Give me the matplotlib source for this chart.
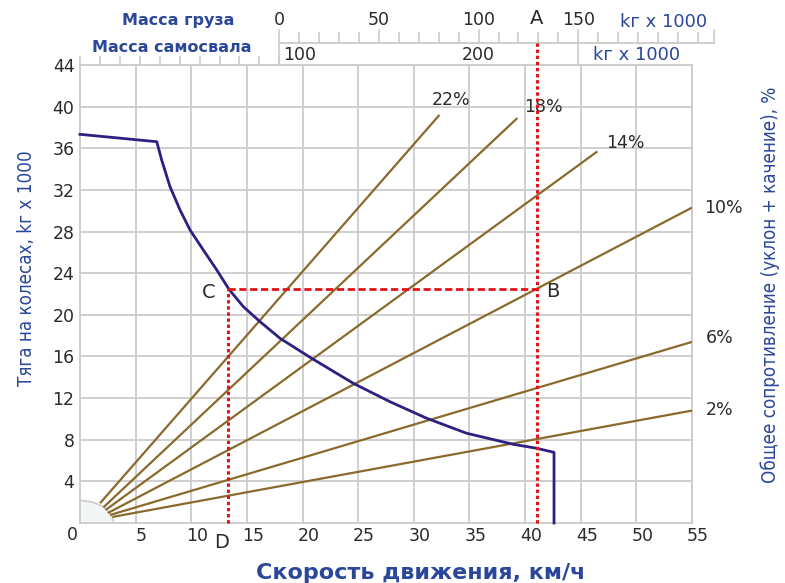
import numpy as np
import matplotlib.pyplot as plt
from matplotlib.patches import Ellipse
from matplotlib.transforms import ScaledTranslation

# тяговая характеристика: скорость, км/ч -> тяга на колесах, т
rimpull_speed = [0, 6.9, 7.34, 8.09, 8.99, 9.89, 11.08, 12.29, 13.39, 14.68, 16.18,
                 17.98, 20.82, 24.56, 27.86, 31.16, 34.75, 38.94, 41.04, 42.6, 42.6]
rimpull_force = [37.34, 36.63, 34.87, 32.31, 30.07, 28.15, 26.23, 24.31, 22.45, 20.78, 19.34,
                 17.74, 15.82, 13.42, 11.65, 10.06, 8.62, 7.56, 7.18, 6.79, 0]

# линии общего сопротивления
grades = ['22%', '18%', '14%', '10%', '6%', '2%']
grade_x0 = [1.8, 2.1, 2.3, 2.5, 2.7, 2.9]
grade_y0 = [1.9, 1.5, 1.25, 0.96, 0.77, 0.58]
grade_x1 = [32.3, 39.3, 46.5, 55, 55, 55]
grade_y1 = [39.2, 38.9, 35.7, 30.3, 17.4, 10.8]

# шкалы массы (т) сверху
load_ticks = np.arange(0, 220, 10)
load_major = [0, 50, 100, 150]
load_max = 218
gross_ticks = np.arange(0, 101, 10)
gross_labels = [100, 200]
empty_mass = 100
kmh_per_tonne = 0.1791

# пример: A -> B -> C -> D
gross_A = 229.3
thrust_B = 22.45
speed_D = 13.3

x_ticks = np.arange(5, 56, 5)
y_ticks = np.arange(4, 45, 4)

BLUE = '#2b4799'
NAVY = '#2d2080'
BROWN = '#8a6a2c'
RED = '#e3131b'
GRID = '#cbcbcb'
DARK = '#2b2b2b'


def load_to_speed(m):
    return (np.asarray(m) + empty_mass) * kmh_per_tonne


def gross_to_speed(m):
    return np.asarray(m) * kmh_per_tonne


fig = plt.figure(figsize=(7.85, 5.83), dpi=100)
ax = fig.add_axes([80 / 785, 60 / 583, 612 / 785, 458 / 583])
ax.set_xlim(0, 55)
ax.set_ylim(0, 44)

ax.set_xticks(x_ticks)
ax.set_yticks(y_ticks)
ax.grid(True, color=GRID, lw=1.3)
ax.set_axisbelow(True)
for s in ax.spines.values():
    s.set_color(GRID)
    s.set_linewidth(1.3)
ax.tick_params(length=0, labelsize=12.5, labelcolor=DARK)
ax.tick_params(axis='x', pad=3)
ax.tick_params(axis='y', pad=4)
for lbl in ax.get_xticklabels():
    lbl.set_transform(lbl.get_transform() + ScaledTranslation(6 / 100, 0, fig.dpi_scale_trans))
ax.text(0, 0, '0', fontsize=12.5, color=DARK, ha='center', va='center',
        transform=ax.transData + ScaledTranslation(-8 / 100, -12 / 100, fig.dpi_scale_trans))

# сектор в начале координат
ax.add_patch(Ellipse((0, 0), 6.0, 4.3, facecolor='#f4f6f6', edgecolor=GRID, lw=1.2, zorder=2))

for g, x0, y0, x1, y1 in zip(grades, grade_x0, grade_y0, grade_x1, grade_y1):
    ax.plot([x0, x1], [y0, y1], color=BROWN, lw=1.6, zorder=3, solid_capstyle='butt')

label_offsets = [(12, 15), (26, 11), (28, 8), (31, 0), (28, 4), (28, 1)]
for g, x1, y1, (dx, dy) in zip(grades, grade_x1, grade_y1, label_offsets):
    ax.text(x1, y1, g, fontsize=12.5, color=DARK, ha='center', va='center',
            transform=ax.transData + ScaledTranslation(dx / 100, dy / 100, fig.dpi_scale_trans))

ax.plot(rimpull_speed, rimpull_force, color=NAVY, lw=2.0, zorder=4, clip_on=False,
        solid_joinstyle='round')

# красные линии примера
speed_A = gross_to_speed(gross_A)
xfrac = ax.get_xaxis_transform()
ax.plot([speed_A, speed_A], [0, 1.048], transform=xfrac, color=RED, lw=2.2,
        ls=(0, (1.1, 0.9)), zorder=5, clip_on=False)
ax.plot([speed_D, speed_A], [thrust_B, thrust_B], color=RED, lw=2.0,
        ls=(0, (2.6, 1.3)), zorder=5)
ax.plot([speed_D, speed_D], [0, thrust_B], color=RED, lw=2.2,
        ls=(0, (1.1, 0.9)), zorder=5, clip_on=False)

pt = fig.dpi_scale_trans
ax.text(speed_A, thrust_B, 'B', fontsize=14, color=DARK, ha='center', va='center',
        transform=ax.transData + ScaledTranslation(16 / 100, -2 / 100, pt))
ax.text(speed_D, thrust_B, 'C', fontsize=14, color=DARK, ha='center', va='center',
        transform=ax.transData + ScaledTranslation(-19 / 100, -3 / 100, pt))
ax.text(speed_D, 0, 'D', fontsize=14, color=DARK, ha='center', va='center',
        transform=ax.transData + ScaledTranslation(-6 / 100, -20 / 100, pt))
ax.text(speed_A, 1.1026, 'A', fontsize=14, color=DARK, ha='center', va='center', transform=xfrac)

# шкала массы груза
s0, s1 = load_to_speed([0, load_max])
ax.plot([s0, s1], [1.048, 1.048], transform=xfrac, color=GRID, lw=1.3, clip_on=False)
for m in load_ticks:
    top = 1.0764 if m in load_major else 1.0699
    s = load_to_speed(m)
    ax.plot([s, s], [1.048, top], transform=xfrac, color=GRID, lw=1.2, clip_on=False)
ax.plot([s1, s1], [1.048, 1.0764], transform=xfrac, color=GRID, lw=1.2, clip_on=False)
for m in [0, 150]:
    s = load_to_speed(m)
    ax.plot([s, s], [1.0, 1.048], transform=xfrac, color=GRID, lw=1.2, clip_on=False)
for m in load_major:
    ax.text(load_to_speed(m), 1.098, str(m), fontsize=12.5, color=DARK,
            ha='center', va='center', transform=xfrac)

# шкала массы самосвала
for m in gross_ticks:
    s = gross_to_speed(m)
    ax.plot([s, s], [1.0, 1.0175], transform=xfrac, color=GRID, lw=1.2, clip_on=False)
ax.text(gross_to_speed(gross_labels[0]), 1.022, str(gross_labels[0]), fontsize=12.5, color=DARK,
        ha='left', va='center', transform=xfrac + ScaledTranslation(4 / 100, 0, pt))
ax.text(gross_to_speed(gross_labels[1]), 1.022, str(gross_labels[1]), fontsize=12.5, color=DARK,
        ha='center', va='center', transform=xfrac)

fig.text(178 / 785, 1 - 20 / 583, 'Масса груза', fontsize=11.5, fontweight='bold',
         color=BLUE, ha='center', va='center')
fig.text(172 / 785, 1 - 47 / 583, 'Масса самосвала', fontsize=11.5, fontweight='bold',
         color=BLUE, ha='center', va='center')
fig.text(664 / 785, 1 - 22 / 583, 'kг x 1000', fontsize=13, color=BLUE, ha='center', va='center')
fig.text(637 / 785, 1 - 55 / 583, 'kг x 1000', fontsize=13, color=BLUE, ha='center', va='center')

fig.text(27 / 785, 1 - 268 / 583, 'Тяга на колесах, kг x 1000', fontsize=13.5,
         fontstretch='condensed', color=BLUE, rotation=90, ha='center', va='center')
fig.text(770 / 785, 1 - 285 / 583, 'Общее сопротивление (уклон + качение), %', fontsize=13.5,
         fontstretch='condensed', color=BLUE, rotation=90, ha='center', va='center')
fig.text(421 / 785, 1 - 573 / 583, 'Скорость движения, км/ч', fontsize=16, fontweight='bold',
         color=BLUE, ha='center', va='center')

fig.savefig('out.png', dpi=100)
